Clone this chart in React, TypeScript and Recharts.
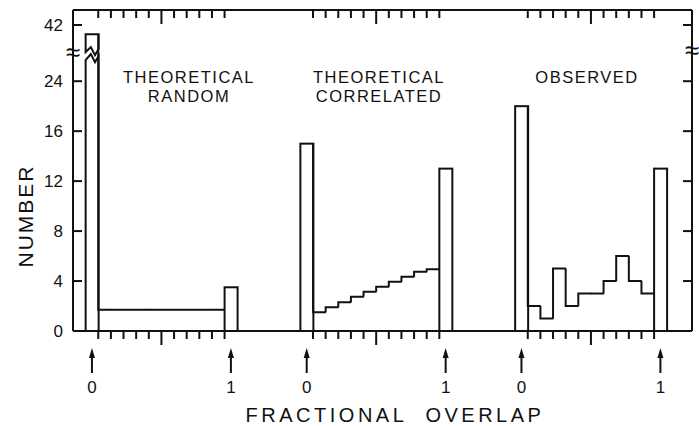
import { Bar, ComposedChart, Line, XAxis, YAxis } from 'recharts';

// bins of each histogram: first bin = overlap 0, last bin = overlap 1, ten bins in between
const randomCounts = [39, 1.7, 1.7, 1.7, 1.7, 1.7, 1.7, 1.7, 1.7, 1.7, 1.7, 3.5];
const correlatedCounts = [15, 1.5, 1.9, 2.3, 2.75, 3.15, 3.55, 3.95, 4.35, 4.75, 4.95, 13];
const observedCounts = [20, 2, 1, 5, 2, 3, 3, 4, 6, 4, 3, 13];
const groupTitles = [['THEORETICAL', 'RANDOM'], ['THEORETICAL', 'CORRELATED'], ['OBSERVED']];
const endLabels = ['0', '1'];
const yTickValues = [0, 4, 8, 12, 16, 24, 42];
const axisBreakValue = 33;

// slot layout of the category axis
const groupStartSlots = [1, 18, 35];
const slotCount = 49;

const W = 699;
const H = 426;
const LEFT = 73;
const RIGHT = 7;
const TOP = 10;
const BOTTOM = 95;
const BAND = (W - LEFT - RIGHT) / slotCount;
const INK = '#111';
const FONT = '"Liberation Sans", Arial, sans-serif';
const titleCenters = [189, 379, 587];

// broken axis: linear to 16, half scale 16..24, quarter scale above the break
const toDisplay = (v: number) => (v <= 16 ? v : v <= 24 ? 16 + (v - 16) / 2 : 20 + (v - 24) / 4);
const yMax = 25.7;
const breakDisp = toDisplay(axisBreakValue);
const yTicks = [...yTickValues.map(toDisplay), breakDisp];
const tickLabel = (d: number) => {
  const v = yTickValues.find((t) => Math.abs(toDisplay(t) - d) < 1e-6);
  return v === undefined ? '' : String(v);
};

const allCounts = [randomCounts, correlatedCounts, observedCounts];
const rows: any[] = [];
for (let slot = 0; slot < slotCount; slot++) {
  const row: any = { slot, disp: null, prev: 0, kind: '', label: '', edge: '' };
  groupStartSlots.forEach((start, g) => {
    const counts = allCounts[g];
    const k = slot - start;
    if (k < 0 || k >= counts.length) return;
    const last = counts.length - 1;
    row.disp = toDisplay(counts[k]);
    row.prev = k > 0 ? toDisplay(counts[k - 1]) : 0;
    row.kind = k === 0 || k === last ? (counts[k] > 24 ? 'broken' : 'edge') : 'mid';
    row.label = k === 0 ? endLabels[0] : k === last ? endLabels[1] : '';
    if (k >= 1 && k <= last) row.edge = k === 6 ? 'long' : 'short';
  });
  rows.push(row);
}

const HistShape = (props: any) => {
  const { x, y, width, height, payload } = props;
  if (!payload || payload.disp == null || !height) return null;
  const bottom = y + height;
  const perUnit = height / payload.disp;
  if (payload.kind === 'mid') {
    const prevY = bottom - payload.prev * perUnit;
    const d =
      Math.abs(prevY - y) < 0.5
        ? `M${x},${y}L${x + width},${y}`
        : `M${x},${prevY}L${x},${y}L${x + width},${y}`;
    return <path d={d} fill="none" stroke={INK} strokeWidth={2} strokeLinejoin="miter" />;
  }
  if (payload.kind === 'broken') {
    const yb = bottom - breakDisp * perUnit;
    const w = width;
    return (
      <g fill="#fff" stroke={INK} strokeWidth={2} strokeLinejoin="miter">
        <path
          d={`M${x},${yb - 1}L${x},${y}L${x + w},${y}L${x + w},${yb - 4}L${x + w * 0.72},${yb + 2}L${x + w * 0.4},${yb - 6}Z`}
        />
        <path
          d={`M${x},${bottom}L${x},${yb + 7}L${x + w * 0.4},${yb + 1}L${x + w * 0.72},${yb + 9}L${x + w},${yb + 3}L${x + w},${bottom}`}
        />
      </g>
    );
  }
  return <rect x={x} y={y} width={width} height={height} fill="#fff" stroke={INK} strokeWidth={2} />;
};

const BottomTick = (props: any) => {
  const { x, y, payload } = props;
  const row = rows[payload.value];
  if (!row) return null;
  const ex = x - BAND / 2;
  return (
    <g>
      {row.edge && (
        <line x1={ex} x2={ex} y1={y} y2={y + (row.edge === 'long' ? 14 : 8)} stroke={INK} strokeWidth={2} />
      )}
      {row.label && (
        <g>
          <line x1={x} x2={x} y1={y + 24} y2={y + 42} stroke={INK} strokeWidth={2} />
          <path d={`M${x},${y + 17}L${x - 3},${y + 27}L${x + 3},${y + 27}Z`} fill={INK} />
          <text x={x} y={y + 62} textAnchor="middle" fontSize={17} fill={INK} fontFamily={FONT}>
            {row.label}
          </text>
        </g>
      )}
    </g>
  );
};

const TopTick = (props: any) => {
  const { x, y, payload } = props;
  const row = rows[payload.value];
  if (!row || !row.edge) return null;
  const ex = x - BAND / 2;
  return <line x1={ex} x2={ex} y1={y} y2={y + (row.edge === 'long' ? 14 : 8)} stroke={INK} strokeWidth={2} />;
};

const LeftTick = (props: any) => {
  const { x, y, payload } = props;
  if (Math.abs(payload.value - breakDisp) < 1e-6) {
    return (
      <text x={x} y={y + 8} textAnchor="middle" fontSize={26} fill={INK} fontFamily={FONT}>
        ≈
      </text>
    );
  }
  return (
    <g>
      <line x1={x} x2={x + 9} y1={y} y2={y} stroke={INK} strokeWidth={2} />
      <text x={x - 10} y={y + 6} textAnchor="end" fontSize={17} fill={INK} fontFamily={FONT}>
        {tickLabel(payload.value)}
      </text>
    </g>
  );
};

const RightTick = (props: any) => {
  const { x, y, payload } = props;
  if (Math.abs(payload.value - breakDisp) < 1e-6) {
    return (
      <text x={x} y={y + 6} textAnchor="middle" fontSize={26} fill={INK} fontFamily={FONT}>
        ≈
      </text>
    );
  }
  return <line x1={x} x2={x - 9} y1={y} y2={y} stroke={INK} strokeWidth={2} />;
};

export default function App() {
  return (
    <div
      style={{
        position: 'absolute',
        left: 0,
        top: 0,
        width: W,
        height: H,
        background: '#fff',
        fontFamily: FONT,
        color: INK,
      }}
    >
      <ComposedChart
        width={W}
        height={H}
        data={rows}
        margin={{ top: 0, right: 0, bottom: 0, left: 0 }}
        barCategoryGap={0}
        barGap={0}
      >
        <XAxis
          dataKey="slot"
          type="category"
          height={BOTTOM}
          interval={0}
          tickLine={false}
          tickSize={0}
          tickMargin={0}
          stroke={INK}
          axisLine={{ stroke: INK, strokeWidth: 2 }}
          tick={<BottomTick />}
        />
        <XAxis
          xAxisId="top"
          orientation="top"
          dataKey="slot"
          type="category"
          height={TOP}
          interval={0}
          tickLine={false}
          tickSize={0}
          tickMargin={0}
          stroke={INK}
          axisLine={{ stroke: INK, strokeWidth: 2 }}
          tick={<TopTick />}
        />
        <YAxis
          type="number"
          domain={[0, yMax]}
          ticks={yTicks}
          width={LEFT}
          interval={0}
          tickLine={false}
          tickSize={0}
          tickMargin={0}
          stroke={INK}
          axisLine={{ stroke: INK, strokeWidth: 2 }}
          tick={<LeftTick />}
        />
        <YAxis
          yAxisId="right"
          orientation="right"
          type="number"
          domain={[0, yMax]}
          ticks={yTicks}
          width={RIGHT}
          interval={0}
          tickLine={false}
          tickSize={0}
          tickMargin={0}
          stroke={INK}
          axisLine={{ stroke: INK, strokeWidth: 2 }}
          tick={<RightTick />}
        />
        <Bar dataKey="disp" shape={HistShape} isAnimationActive={false} />
        <Line
          xAxisId="top"
          yAxisId="right"
          dataKey="disp"
          stroke="none"
          dot={false}
          activeDot={false}
          isAnimationActive={false}
        />
      </ComposedChart>

      {groupTitles.map((lines, i) => (
        <div
          key={i}
          style={{
            position: 'absolute',
            left: titleCenters[i],
            top: 68,
            transform: 'translateX(-50%)',
            textAlign: 'center',
            fontSize: 16.5,
            lineHeight: '18.5px',
            letterSpacing: 1.5,
            whiteSpace: 'nowrap',
          }}
        >
          {lines.map((l) => (
            <div key={l}>{l}</div>
          ))}
        </div>
      ))}

      <div
        style={{
          position: 'absolute',
          left: 395,
          top: 405,
          transform: 'translateX(-50%)',
          fontSize: 20,
          lineHeight: '20px',
          letterSpacing: 3.5,
          whiteSpace: 'nowrap',
        }}
      >
        FRACTIONAL&nbsp; OVERLAP
      </div>
      <div
        style={{
          position: 'absolute',
          left: 25,
          top: 216,
          transform: 'translate(-50%, -50%) rotate(-90deg)',
          fontSize: 21,
          lineHeight: '21px',
          letterSpacing: 2,
          whiteSpace: 'nowrap',
        }}
      >
        NUMBER
      </div>
    </div>
  );
}
